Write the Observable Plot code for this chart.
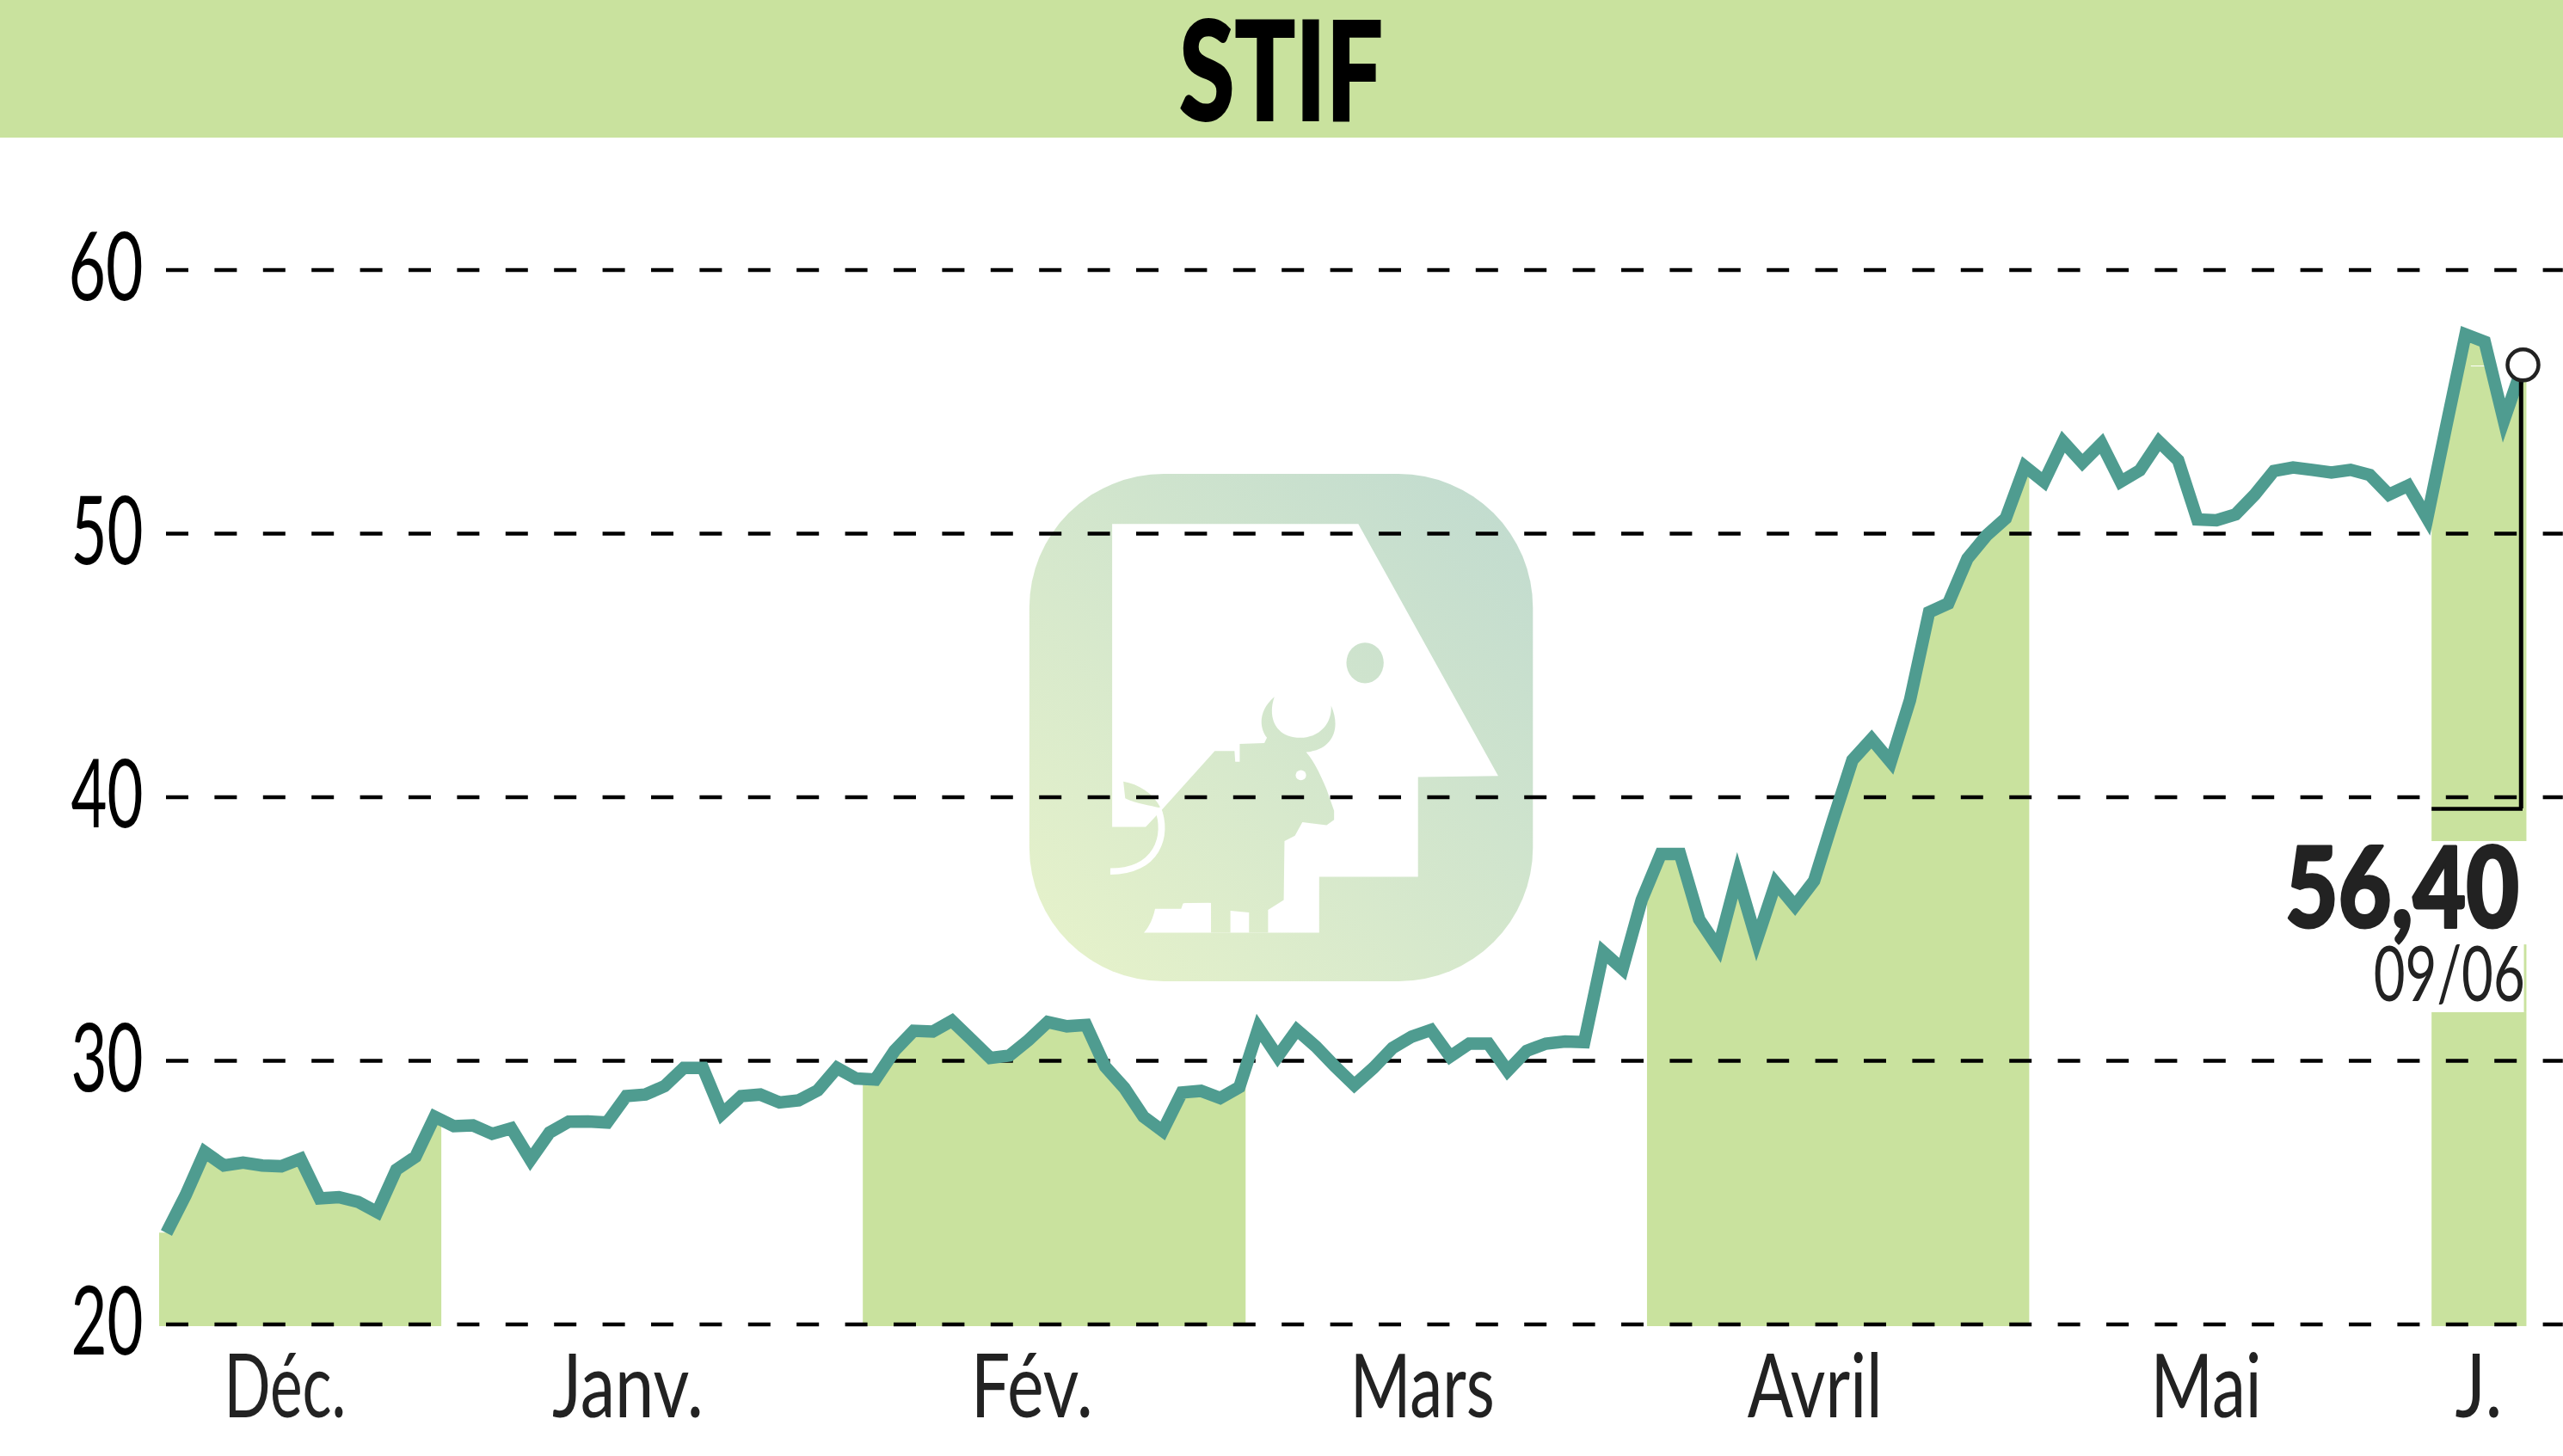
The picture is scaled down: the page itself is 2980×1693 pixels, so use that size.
<!DOCTYPE html>
<html>
<head>
<meta charset="utf-8">
<script src="https://cdn.jsdelivr.net/npm/d3@7"></script>
<script src="https://cdn.jsdelivr.net/npm/@observablehq/plot@0.6"></script>
<style>
html,body{margin:0;padding:0;background:#fff;overflow:hidden;width:2980px;height:1693px}
#head{position:absolute;left:0;top:0;width:2980px;height:160px;background:#c9e29e;overflow:visible}
#logo{position:absolute;left:1150px;top:520px;width:680px;height:650px}
#chart{position:absolute;left:0;top:160px;width:2980px;height:1533px}
</style>
</head>
<body>
<svg id="head" width="2980" height="160"><text id="ttl" x="1371" y="140" font-family="Lato" font-weight="900" font-size="160" fill="#000" stroke="#000" stroke-width="2" textLength="237" lengthAdjust="spacingAndGlyphs">STIF</text></svg>
<svg id="logo" viewBox="0 0 1568 1568" preserveAspectRatio="none">
<defs><linearGradient id="g" gradientUnits="userSpaceOnUse" x1="150" y1="1450" x2="1450" y2="150"><stop offset="0" stop-color="#e6f2ca"/><stop offset="1" stop-color="#c1dbcf"/></linearGradient></defs>
<rect x="108" y="75" width="1350" height="1423" rx="360" ry="375" fill="url(#g)"/>
<path fill="#fff" d="M330,215L990,215L1365,922L1150,925L1150,1205L885,1205L885,1362L415,1362C430,1345 440,1320 445,1295L515,1295L520,1280L560,1270L595,1278L600,1100L420,1065L330,1065Z"/>
<path fill="url(#g)" d="M465,1015L605,852L658,852L660,882L672,882L672,832L738,830L745,815C725,790 720,740 765,700C745,760 770,815 835,815C880,815 920,780 917,725C945,790 920,850 850,855C870,880 885,910 905,960L925,1020L925,1045L905,1060L840,1052L820,1090L792,1105L790,1270L748,1298L748,1362L697,1362L697,1305L647,1300L647,1362L595,1362L595,1278L420,1280L420,1065Z"/>
<path fill="url(#g)" d="M360,938C400,945 440,970 460,1012C430,1005 395,1000 365,985Z"/>
<path fill="none" stroke="#fff" stroke-width="18" d="M452,1012C482,1090 450,1190 325,1190"/>
<circle cx="836" cy="920" r="14" fill="#fff"/>
<ellipse cx="1008" cy="605" rx="50" ry="57" fill="url(#g)"/>
</svg>
<div id="chart"></div>
<script>
const title = "STIF";
const monthLabels = ["Déc.","Janv.","Fév.","Mars","Avril","Mai","J."];
const monthPositions = [6.19,24.08,45.17,65.55,86.04,106.46,120.69];
const monthTextWidths = [142,176,142,168,157,129,55];
const yTicks = [20,30,40,50,60];
const lastValueLabel = "56,40";
const lastDateLabel = "09/06";
const closes = [
23.47,24.9,26.54,26.03,26.14,26.03,26.0,26.28,24.78,24.83,24.65,24.26,25.87,26.36,27.88,
27.52,27.55,27.23,27.44,26.25,27.28,27.69,27.70,27.66,28.66,28.72,29.04,29.73,29.73,27.99,
28.66,28.72,28.42,28.5,28.88,29.73,29.33,29.29,30.38,31.14,31.11,31.52,30.82,30.11,30.2,
30.79,31.47,31.31,31.36,29.78,28.97,27.88,27.34,28.8,28.86,28.59,29.0,31.25,30.16,31.17,
30.54,29.78,29.08,29.73,30.49,30.92,31.17,30.16,30.65,30.65,29.62,30.38,30.65,30.73,30.71,
34.13,33.48,36.1,37.85,37.85,35.37,34.28,37.04,34.57,36.75,35.88,36.83,39.16,41.41,42.21,
41.34,43.67,47.02,47.35,49.05,49.93,50.58,52.55,51.97,53.49,52.69,53.42,51.97,52.4,53.49,
52.78,50.54,50.51,50.73,51.48,52.38,52.51,52.42,52.32,52.42,52.23,51.48,51.82,50.58,54.1,
57.56,57.28,54.29,56.4];
const bandEdges = [[-0.36,14.37],[36.37,56.35],[77.3,97.25],[118.25,123.2]];

const series = closes.map((v,i)=>({i,v}));
const lastI = closes.length-1;
const at = t => {
  const c = Math.max(0,Math.min(lastI,t)), a = Math.floor(c), b = Math.min(lastI,a+1);
  return closes[a]+(closes[b]-closes[a])*(c-a);
};
const bandPoints = ([a,b]) => [{i:a,v:at(a)},...series.filter(d=>d.i>a&&d.i<b),{i:b,v:at(b)}];
const green = "#c9e29e", teal = "#4f9c90", base = 19.92;
const area = (e,y1) => Plot.areaY(bandPoints(e),{x:"i",y1,y2:"v",fill:green,curve:"linear"});

const plot = Plot.plot({
  width:2980,height:1533,
  marginLeft:193,marginRight:47,marginTop:153.5,marginBottom:153.5,
  x:{domain:[0,123]},
  y:{domain:[20,60]},
  style:{background:"transparent",overflow:"visible"},
  marks:[
    area(bandEdges[0],base),area(bandEdges[1],base),area(bandEdges[2],base),
    area(bandEdges[3],38.32),
    Plot.rect([{a:118.25,b:123.2,lo:base,hi:31.83},{a:123.07,b:123.2,lo:31.83,hi:34.4}],{x1:"a",x2:"b",y1:"lo",y2:"hi",fill:green}),
    Plot.ruleY(yTicks,{x1:0,x2:125.1,stroke:"#000",strokeWidth:4.7,strokeDasharray:"26,30.4"}),
    Plot.ruleY([56.36],{x1:120.3,x2:122.1,stroke:"#fff",strokeWidth:1}),
    Plot.line(series,{x:"i",y:"v",stroke:teal,strokeWidth:14.5,strokeLinejoin:"miter",strokeLinecap:"butt",strokeMiterlimit:4,curve:"linear"}),
    Plot.ruleX([122.9],{y1:39.56,y2:56.4,stroke:"#000",strokeWidth:5}),
    Plot.ruleY([39.56],{x1:118.25,x2:123,stroke:"#000",strokeWidth:4.5}),
    Plot.dot([series[lastI]],{x:"i",y:"v",r:18,fill:"#fff",stroke:"#222",strokeWidth:4.5}),
    Plot.axisY({ticks:yTicks,anchor:"left",label:null,tickSize:0,tickPadding:27,fontSize:110,fontFamily:"Lato",fill:"#000"}),
    Plot.axisX({ticks:monthPositions,anchor:"bottom",label:null,tickSize:0,tickPadding:36,fontSize:102,fontFamily:"Lato",fill:"#222",
      tickFormat:d=>monthLabels[monthPositions.indexOf(d)]}),
    Plot.text([lastValueLabel],{x:122.8,y:36.43,text:d=>d,textAnchor:"end",fontSize:129,fontWeight:900,fontFamily:"Lato",fill:"#222",stroke:"#222",strokeWidth:3}),
    Plot.text([lastDateLabel],{x:123.1,y:33.2,text:d=>d,textAnchor:"end",fontSize:90,fontFamily:"Lato",fill:"#222"})
  ]
});
document.getElementById("chart").appendChild(plot);
const widths = new Map([["20",84],["30",84],["40",84],["50",84],["60",87],[lastValueLabel,272],[lastDateLabel,176]]);
monthLabels.forEach((m,i)=>widths.set(m,monthTextWidths[i]));
plot.querySelectorAll("text").forEach(t=>{
  const w = widths.get(t.textContent.trim());
  if(w){t.setAttribute("textLength",w);t.setAttribute("lengthAdjust","spacingAndGlyphs");}
});
</script>
</body>
</html>
